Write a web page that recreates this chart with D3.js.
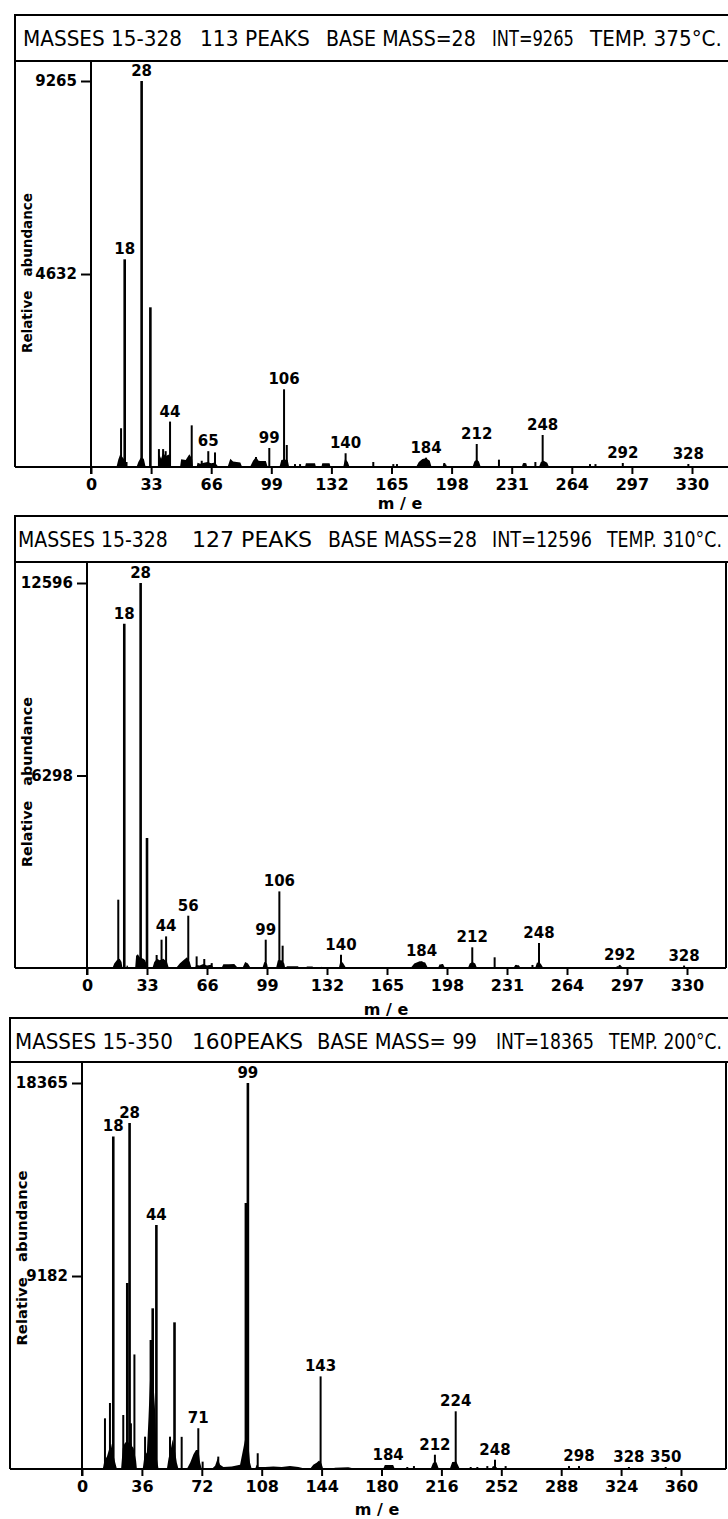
<!DOCTYPE html>
<html>
<head>
<meta charset="utf-8">
<script src="https://cdn.jsdelivr.net/npm/d3@7"></script>
<style>
  body { margin: 0; background: #fff; }
  text { fill: #000; }
</style>
</head>
<body>
<div id="chart"></div>
<script>
// ---- data ----
const headers = [
  ["MASSES 15-328", "113 PEAKS", "BASE MASS=28", "INT=9265", "TEMP. 375°C."],
  ["MASSES 15-328", "127 PEAKS", "BASE MASS=28", "INT=12596", "TEMP. 310°C."],
  ["MASSES 15-350", "160PEAKS", "BASE MASS= 99", "INT=18365", "TEMP. 200°C."]
];
const maxInt = [9265, 12596, 18365];
const yTicks = [[4632, 9265], [6298, 12596], [9182, 18365]];
const xTicks = [
  [0, 33, 66, 99, 132, 165, 198, 231, 264, 297, 330],
  [0, 33, 66, 99, 132, 165, 198, 231, 264, 297, 330],
  [0, 36, 72, 108, 144, 180, 216, 252, 288, 324, 360]
];

// peaks: [m/e, intensity, label]
const peaks375 = [
  [16.5, 930], [18.5, 4985, "18"], [19.5, 120], [27.8, 9265, "28"], [32.6, 3833],
  [37.3, 430], [39.6, 430], [41, 380], [43.4, 1090, "44"], [55.3, 1000], [60.8, 150],
  [64.4, 380, "65"], [68.1, 350], [90.6, 240], [97.9, 456, "99"], [106, 1865, "106"],
  [107.5, 528], [112, 70], [114.8, 70], [139.8, 330, "140"], [155, 120], [166, 70],
  [168, 70], [184, 224, "184"], [194, 96], [211.8, 552, "212"], [224, 176], [238, 96],
  [244, 120], [248, 768, "248"], [249.3, 100], [274, 70], [277, 70], [292, 96, "292"],
  [328, 72, "328"]
];
const peaks310 = [
  [17.2, 2235], [20.5, 11264, "18"], [29.5, 12596, "28"], [33, 4253], [38.3, 425],
  [41, 926], [43.5, 1034, "44"], [55.7, 1711, "56"], [60.3, 380], [64.5, 294],
  [68.6, 160], [98.3, 926, "99"], [105.8, 2506, "106"], [107.6, 730], [139.7, 435, "140"],
  [184, 219, "184"], [195.4, 130], [211.9, 677, "212"], [224.2, 350], [236, 100],
  [245, 100], [248.6, 818, "248"], [293, 100, "292"], [328.4, 80, "328"]
];
const peaks200 = [
  [13.8, 2411], [16.8, 3140], [18.8, 15823, "18"], [24.8, 2569], [27.2, 8850],
  [28.6, 16462, "28"], [29.4, 2173], [31.5, 5450], [37.9, 1538], [41.4, 6138],
  [42.5, 7645], [44.7, 11610, "44"], [52.9, 1538], [55.6, 6978], [59.9, 1530],
  [69.9, 1940, "71"], [72.5, 350], [81.9, 590], [98.5, 12660], [99.7, 18365, "99"],
  [105.6, 750], [143.4, 4406, "143"], [184, 190, "184"], [195.5, 95], [199.5, 140],
  [212.1, 680, "212"], [224.6, 2745, "224"], [233.6, 95], [237.6, 95], [243.6, 140],
  [248.2, 442, "248"], [254.6, 140], [292.7, 140], [298.7, 140, "298"],
  [328.7, 95, "328"], [350.8, 95, "350"]
];

// unresolved background humps under the sticks: [m/e, intensity]
const floor375 = [
  [14,0],[15,180],[16,300],[17,250],[18,200],[19.5,0],[25,0],[26,120],[27.3,224],[29,200],[30,0],
  [36.8,0],[37.5,300],[38.5,200],[39.6,350],[41,250],[42.5,300],[43.4,250],[44,0],
  [48.9,0],[49.5,185],[52,170],[54,304],[55.5,200],[56,0],[58,0],[58.5,100],[60,80],[62,100],
  [64,120],[66,90],[68,110],[70,0],[75,0],[76.5,200],[78,130],[82,110],[83,0],
  [87.3,0],[89,150],[90.6,240],[92,150],[93,144],[96,144],[97,0],[103.5,0],[104.5,168],
  [106,180],[108,168],[108.8,0],[117.5,0],[118,90],[123,90],[123.5,0],[126.5,0],[127,90],
  [131,90],[131.5,0],[138.5,0],[139.5,200],[141,120],[142,0],[178.5,0],[180,120],[182,190],
  [184,210],[186,150],[187,0],[193,0],[193.5,80],[195,60],[195.5,0],[209.5,0],[210.5,130],
  [211.8,180],[213,130],[214,0],[236.5,0],[237.2,90],[239,90],[239.5,0],[246,0],[247,120],
  [248.5,150],[250.5,100],[251.5,0]
];
const floor310 = [
  [14,0],[15,150],[16.5,260],[18,300],[19,200],[19.5,0],[21.5,0],[22,100],[23,0],[26.5,0],
  [27,400],[28,450],[29,350],[31,300],[32,250],[33.5,0],[36,0],[37,200],[38.5,300],[40,250],
  [42,300],[44,200],[45,0],[49,0],[51,150],[53,250],[55,350],[56.5,200],[57.5,0],[59.5,0],
  [60,100],[62,80],[64,130],[66,80],[68,110],[70,0],[74,0],[75,120],[78,120],[81,130],[83,0],
  [85.5,0],[87,200],[88.5,150],[90,0],[96.5,0],[97.5,200],[99,150],[99.5,0],[104,0],[105,250],
  [107,250],[108.5,150],[109,0],[110,60],[116,60],[117,0],[120,0],[121,50],[124,50],[125,0],
  [128,0],[129,40],[130,0],[138.5,0],[139.5,250],[141,150],[142.5,0],[178,0],[180,150],
  [183,220],[186,180],[187.5,0],[193,0],[194,120],[196,100],[197,0],[209.5,0],[210.5,150],
  [212,200],[213.5,150],[214.5,0],[234.5,0],[235.5,90],[237.5,90],[238.5,0],[246.5,0],
  [247.5,180],[249.5,150],[251,0],[290.5,0],[291.5,60],[294,60],[295,0]
];
const floor200 = [
  [12.5,0],[13.5,400],[15,600],[16.5,1000],[17.5,1200],[18.5,800],[20,300],[21,0],[23.5,0],
  [24.5,1000],[25.5,1200],[26.5,1300],[27.5,1200],[29,1400],[30,1100],[31,1000],[32.5,400],
  [33,0],[36.5,0],[37.5,600],[39,800],[40,2500],[41,4500],[42,5000],[43,4000],[43.8,3000],
  [45,500],[46,0],[51,0],[52,500],[53.5,1000],[54.5,1400],[56,800],[57,300],[58,0],[63,0],
  [65,300],[67,700],[68.5,900],[70,900],[71,300],[72,0],[78,0],[80,150],[81.5,500],[83,200],
  [85,100],[90,120],[95,200],[97,1000],[98,1400],[100,1200],[101,300],[102,0],[104,0],
  [105,200],[106,100],[110,100],[115,120],[120,100],[125,140],[130,90],[135,0],[137,0],
  [139,200],[141,300],[142.5,400],[144,250],[145,0],[150,0],[152,60],[160,80],[165,0],
  [181,0],[182,190],[187,190],[188,0],[209.5,0],[211,300],[213,320],[214.5,0],[221,0],
  [222.5,330],[225,350],[226.5,100],[227,0],[246,0],[247,140],[249,100],[250,0]
];

// ---- layout of the three stacked panels ----
// header boxes run off the right edge of the page; the plot frames close at `right`
const layout = [
  { left: 15, right: 732, hTop: 15, hBot: 61, axisX: 91, xEnd: 692, base: 467, top: 81,
    seg: [[23, 182], [200, 310], [326, 476], [492, 574], [590, 722]],
    titleX: 27, titleY: 273, titleLen: 160, meX: 400, meY: 509 },
  { left: 15, right: 726, hTop: 516, hBot: 562, axisX: 87, xEnd: 687, base: 968, top: 583,
    seg: [[18, 168], [192, 312], [328, 477], [492, 592], [607, 722]],
    titleX: 27, titleY: 782, titleLen: 170, meX: 386, meY: 1015 },
  { left: 10, right: 726, hTop: 1018, hBot: 1062, axisX: 82, xEnd: 681, base: 1469, top: 1083,
    seg: [[15, 173], [192, 303], [317, 477], [496, 594], [609, 722]],
    titleX: 22, titleY: 1258, titleLen: 175, meX: 377, meY: 1515 }
];
const allPeaks = [peaks375, peaks310, peaks200];
const allFloors = [floor375, floor310, floor200];

const W = 728, H = 1519;
const svg = d3.select("#chart").append("svg")
  .attr("width", W)
  .attr("height", H)
  .style("font-family", "'DejaVu Sans', 'Liberation Sans', sans-serif");

layout.forEach((L, i) => {
  const g = svg.append("g");
  const xMax = xTicks[i][xTicks[i].length - 1];
  const x = d3.scaleLinear().domain([0, xMax]).range([L.axisX, L.xEnd]);
  const y = d3.scaleLinear().domain([0, maxInt[i]]).range([L.base, L.top]);

  // header box + text, one piece per field, squeezed horizontally to its slot
  g.append("rect")
    .attr("x", L.left).attr("y", L.hTop)
    .attr("width", 740 - L.left).attr("height", L.hBot - L.hTop)
    .attr("fill", "none").attr("stroke", "#000").attr("stroke-width", 2);
  g.selectAll(".hdr")
    .data(headers[i])
    .enter()
    .append("text")
    .attr("class", "hdr")
    .attr("font-size", 21)
    .text(d => d)
    .attr("transform", function (d, k) {
      const w = this.getComputedTextLength();
      const sx = (L.seg[k][1] - L.seg[k][0]) / w;
      return `translate(${L.seg[k][0]},${L.hTop + 30.5}) scale(${sx},1)`;
    });

  // frame: left side, right side, baseline
  g.append("line")
    .attr("x1", L.left).attr("x2", L.left).attr("y1", L.hBot).attr("y2", L.base)
    .attr("stroke", "#000").attr("stroke-width", 2);
  g.append("line")
    .attr("x1", L.right).attr("x2", L.right).attr("y1", L.hBot).attr("y2", L.base)
    .attr("stroke", "#000").attr("stroke-width", 2);
  g.append("line")
    .attr("x1", L.left).attr("x2", L.right).attr("y1", L.base).attr("y2", L.base)
    .attr("stroke", "#000").attr("stroke-width", 2);

  // background humps
  g.append("path")
    .datum(allFloors[i])
    .attr("fill", "#000")
    .attr("d", d3.area().x(d => x(d[0])).y0(L.base).y1(d => y(d[1])));

  // peak sticks
  g.selectAll(".peak")
    .data(allPeaks[i])
    .enter()
    .append("line")
    .attr("class", "peak")
    .attr("x1", d => x(d[0])).attr("x2", d => x(d[0]))
    .attr("y1", L.base).attr("y2", d => y(d[1]))
    .attr("stroke", "#000")
    .attr("stroke-width", d => d[1] > maxInt[i] * 0.3 ? 2.6 : 2);

  // peak labels
  g.selectAll(".plabel")
    .data(allPeaks[i].filter(d => d[2]))
    .enter()
    .append("text")
    .attr("class", "plabel")
    .attr("x", d => x(d[0]))
    .attr("y", d => y(d[1]) - 5)
    .attr("text-anchor", "middle")
    .attr("font-size", 15)
    .attr("font-weight", "bold")
    .text(d => d[2]);

  // vertical axis line (runs from header down past the baseline)
  g.append("line")
    .attr("x1", L.axisX).attr("x2", L.axisX).attr("y1", L.hBot).attr("y2", L.base + 7)
    .attr("stroke", "#000").attr("stroke-width", 2);

  // x axis ticks and labels
  const xa = g.append("g")
    .attr("transform", `translate(0,${L.base})`)
    .call(d3.axisBottom(x).tickValues(xTicks[i]).tickSize(7).tickPadding(5));
  xa.select(".domain").remove();
  xa.selectAll("line").attr("stroke-width", 2);
  xa.selectAll("text")
    .attr("font-size", 16).attr("font-weight", "bold")
    .attr("font-family", "'DejaVu Sans', sans-serif");

  // y axis ticks and labels
  const ya = g.append("g")
    .attr("transform", `translate(${L.axisX},0)`)
    .call(d3.axisLeft(y).tickValues(yTicks[i]).tickSize(10).tickPadding(4).tickFormat(d3.format("d")));
  ya.select(".domain").remove();
  ya.selectAll("line").attr("stroke-width", 2);
  ya.selectAll("text")
    .attr("font-size", 15).attr("font-weight", "bold")
    .attr("font-family", "'DejaVu Sans', sans-serif");

  // axis titles
  g.append("text")
    .attr("transform", `translate(${L.titleX},${L.titleY}) rotate(-90)`)
    .attr("text-anchor", "middle")
    .attr("dy", "0.35em")
    .attr("font-size", 14)
    .attr("font-weight", "bold")
    .attr("textLength", L.titleLen)
    .attr("lengthAdjust", "spacingAndGlyphs")
    .style("white-space", "pre")
    .text("Relative   abundance");
  g.append("text")
    .attr("x", L.meX).attr("y", L.meY)
    .attr("text-anchor", "middle")
    .attr("font-size", 16)
    .attr("font-weight", "bold")
    .style("white-space", "pre")
    .text("m / e");
});
</script>
</body>
</html>
